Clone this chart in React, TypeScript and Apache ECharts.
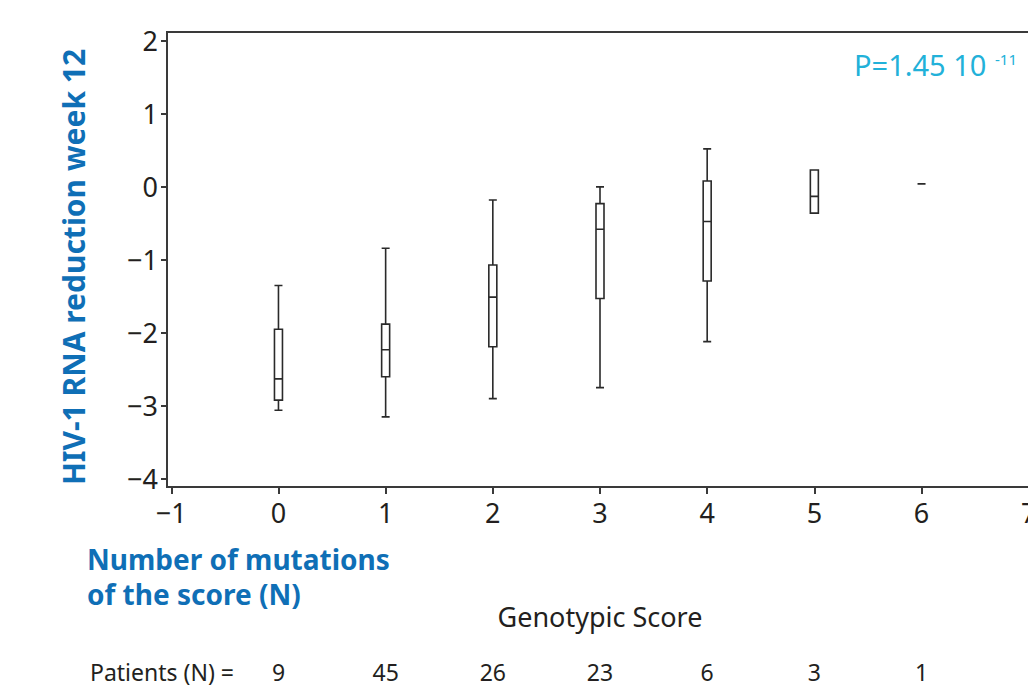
import React, { useEffect, useRef } from "react";
import * as echarts from "echarts";

// Genotypic score (x position of each box)
const scores = [0, 1, 2, 3, 4, 5, 6];
// Box statistics: [min, Q1, median, Q3, max]
const boxMin = [-3.06, -3.15, -2.9, -2.75, -2.12, -0.36, 0.04];
const boxQ1 = [-2.92, -2.6, -2.19, -1.53, -1.29, -0.36, 0.04];
const boxMedian = [-2.63, -2.23, -1.51, -0.58, -0.475, -0.13, 0.04];
const boxQ3 = [-1.95, -1.88, -1.07, -0.23, 0.08, 0.23, 0.04];
const boxMax = [-1.35, -0.84, -0.18, 0.0, 0.52, 0.23, 0.04];
const patients = [9, 45, 26, 23, 6, 3, 1];
const xTicks = [-1, 0, 1, 2, 3, 4, 5, 6, 7];
const yTicks = [-4, -3, -2, -1, 0, 1, 2];

const FONT = "'Noto Sans', sans-serif";
const AXIS = "#3a3a3a";
const TEXT = "#231f20";
const BLUE = "#0f6fb6";
const CYAN = "#22b1d9";

export default function App() {
  const ref = useRef<HTMLDivElement>(null);
  useEffect(() => {
    if (!ref.current) return;
    const chart = echarts.init(ref.current, null, { renderer: "svg" });
    const data = scores.map((s, i) => [s, boxMin[i], boxQ1[i], boxMedian[i], boxQ3[i], boxMax[i]]);
    chart.setOption({
      animation: false,
      backgroundColor: "#fff",
      grid: {
        left: 167,
        top: 32,
        right: -5,
        bottom: 201,
        outerBoundsMode: "none",
        containLabel: false,
        show: true,
        borderColor: AXIS,
        borderWidth: 2,
        backgroundColor: "transparent",
      },
      xAxis: [
        {
          type: "value",
          min: -1.04,
          max: 7.04,
          splitLine: { show: false },
          axisLine: { show: true, onZero: false, lineStyle: { color: AXIS, width: 2 } },
          axisTick: { show: true, length: 7, lineStyle: { color: AXIS, width: 2 }, customValues: xTicks },
          axisLabel: {
            customValues: xTicks,
            color: TEXT,
            fontFamily: FONT,
            fontSize: 27,
            margin: 12,
            formatter: (v: number) => (v < 0 ? "\u2212" + Math.abs(v) : String(v)),
          },
        },
        {
          type: "value",
          position: "bottom",
          offset: 173,
          min: -1.04,
          max: 7.04,
          splitLine: { show: false },
          axisLine: { show: false, onZero: false },
          axisTick: { show: false },
          axisLabel: {
            customValues: scores,
            color: TEXT,
            fontFamily: FONT,
            fontSize: 23,
            margin: 0,
            formatter: (v: number) => String(patients[scores.indexOf(v)]),
          },
        },
      ],
      yAxis: {
        type: "value",
        min: -4.11,
        max: 2.12,
        splitLine: { show: false },
        axisLine: { show: true, onZero: false, lineStyle: { color: AXIS, width: 2 } },
        axisTick: { show: true, length: 6, lineStyle: { color: AXIS, width: 2 }, customValues: yTicks },
        axisLabel: {
          customValues: yTicks,
          color: TEXT,
          fontFamily: FONT,
          fontSize: 27,
          margin: 9,
          formatter: (v: number) => (v < 0 ? "\u2212" + Math.abs(v) : String(v)),
        },
      },
      series: [
        {
          type: "boxplot",
          xAxisIndex: 0,
          yAxisIndex: 0,
          layout: "horizontal",
          boxWidth: [8, 8],
          encode: { x: 0, y: [1, 2, 3, 4, 5] },
          itemStyle: { color: "#fff", borderColor: "#2a2a2a", borderWidth: 1.6 },
          data,
        },
      ],
      graphic: [
        {
          type: "text",
          x: 73,
          y: 267,
          rotation: Math.PI / 2,
          style: {
            text: "HIV-1 RNA reduction week 12",
            fill: BLUE,
            font: `bold 30px ${FONT}`,
            align: "center",
            verticalAlign: "middle",
          },
        },
        {
          type: "text",
          x: 854,
          y: 64,
          style: {
            text: "P=1.45 10",
            fill: CYAN,
            font: `29px ${FONT}`,
            align: "left",
            verticalAlign: "middle",
          },
        },
        {
          type: "text",
          x: 995,
          y: 59,
          style: {
            text: "-11",
            fill: CYAN,
            font: `15px ${FONT}`,
            align: "left",
            verticalAlign: "middle",
          },
        },
        {
          type: "text",
          x: 87,
          y: 559,
          style: {
            text: "Number of mutations",
            fill: BLUE,
            font: `bold 28px ${FONT}`,
            align: "left",
            verticalAlign: "middle",
          },
        },
        {
          type: "text",
          x: 87,
          y: 594,
          style: {
            text: "of the score (N)",
            fill: BLUE,
            font: `bold 28px ${FONT}`,
            align: "left",
            verticalAlign: "middle",
          },
        },
        {
          type: "text",
          x: 600,
          y: 616,
          style: {
            text: "Genotypic Score",
            fill: TEXT,
            font: `27px ${FONT}`,
            align: "center",
            verticalAlign: "middle",
          },
        },
        {
          type: "text",
          x: 90,
          y: 672,
          style: {
            text: "Patients (N) =",
            fill: TEXT,
            font: `23px ${FONT}`,
            align: "left",
            verticalAlign: "middle",
          },
        },
      ],
    });
    return () => chart.dispose();
  }, []);
  return (
    <div
      ref={ref}
      style={{ position: "fixed", left: 0, top: 0, width: 1028, height: 688, background: "#fff" }}
    />
  );
}
